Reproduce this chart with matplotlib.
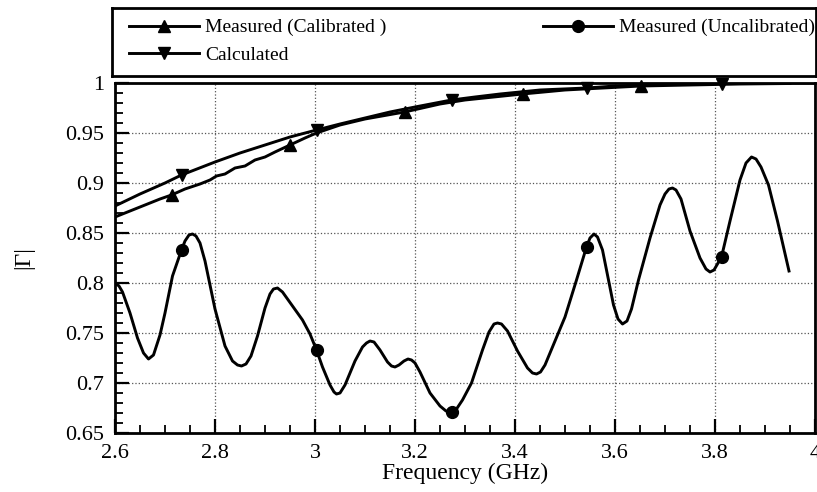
import matplotlib
matplotlib.use('Agg')
import matplotlib.pyplot as plt
from matplotlib.ticker import MultipleLocator
from matplotlib.lines import Line2D

plt.rcParams['font.family'] = ['Liberation Serif', 'DejaVu Serif']

# calculated |Gamma| (smooth curve) and its markers
calc_f = [2.60, 2.65, 2.70, 2.733, 2.80, 2.85, 2.90, 2.95, 3.003, 3.05, 3.10, 3.15, 3.20,
          3.273, 3.32, 3.37, 3.45, 3.543, 3.60, 3.65, 3.75, 3.813, 3.90, 4.00]
calc_g = [0.877, 0.889, 0.900, 0.908, 0.921, 0.930, 0.938, 0.946, 0.953, 0.959, 0.965,
          0.971, 0.976, 0.983, 0.986, 0.989, 0.993, 0.995, 0.997, 0.998, 0.999, 0.9995, 0.9998, 1.0]
calc_mf = [2.733, 3.003, 3.273, 3.543, 3.813]
calc_mg = [0.908, 0.953, 0.983, 0.995, 0.9995]

# measured, calibrated
cal_f = [2.60, 2.63, 2.66, 2.69, 2.713, 2.74, 2.77, 2.79, 2.803, 2.82, 2.84, 2.86, 2.88,
         2.90, 2.92, 2.95, 2.98, 3.003, 3.05, 3.10, 3.179, 3.25, 3.30, 3.415, 3.50,
         3.652, 3.75, 3.85, 3.95]
cal_g = [0.866, 0.872, 0.878, 0.884, 0.888, 0.894, 0.899, 0.903, 0.907, 0.909, 0.915,
         0.917, 0.923, 0.926, 0.931, 0.938, 0.945, 0.950, 0.958, 0.964, 0.971, 0.979,
         0.983, 0.989, 0.993, 0.997, 0.998, 0.999, 0.9995]
cal_mf = [2.713, 2.95, 3.179, 3.415, 3.652]
cal_mg = [0.888, 0.938, 0.971, 0.989, 0.997]

# measured, uncalibrated
unc_f = [2.600, 2.608, 2.615, 2.630, 2.645, 2.657, 2.667, 2.677, 2.690, 2.700, 2.715,
         2.733, 2.740, 2.748, 2.755, 2.762, 2.770, 2.780, 2.800, 2.820, 2.835, 2.845,
         2.853, 2.862, 2.872, 2.885, 2.900, 2.910, 2.917, 2.925, 2.935, 2.955, 2.975,
         2.990, 3.003, 3.015, 3.030, 3.038, 3.043, 3.050, 3.060, 3.080, 3.095, 3.103,
         3.110, 3.118, 3.130, 3.145, 3.153, 3.160, 3.168, 3.178, 3.186, 3.193, 3.200,
         3.210, 3.230, 3.250, 3.262, 3.273, 3.283, 3.295, 3.313, 3.335, 3.348, 3.358,
         3.365, 3.373, 3.385, 3.405, 3.425, 3.435, 3.443, 3.451, 3.460, 3.480, 3.500,
         3.523, 3.543, 3.550, 3.558, 3.565, 3.575, 3.587, 3.597, 3.606, 3.615, 3.624,
         3.633, 3.647, 3.670, 3.690, 3.700, 3.708, 3.715, 3.722, 3.732, 3.750, 3.770,
         3.782, 3.790, 3.798, 3.813, 3.830, 3.850, 3.862, 3.873, 3.882, 3.892, 3.907,
         3.925, 3.948]
unc_g = [0.800, 0.797, 0.791, 0.770, 0.745, 0.730, 0.724, 0.728, 0.748, 0.770, 0.807,
         0.833, 0.842, 0.848, 0.849, 0.847, 0.840, 0.822, 0.774, 0.737, 0.722, 0.718,
         0.717, 0.719, 0.727, 0.747, 0.775, 0.789, 0.794, 0.795, 0.791, 0.777, 0.763,
         0.749, 0.733, 0.716, 0.698, 0.691, 0.689, 0.690, 0.698, 0.722, 0.736, 0.740,
         0.742, 0.741, 0.733, 0.721, 0.717, 0.716, 0.718, 0.722, 0.724, 0.723, 0.720,
         0.711, 0.690, 0.677, 0.672, 0.671, 0.674, 0.683, 0.700, 0.733, 0.751, 0.759,
         0.760, 0.759, 0.752, 0.732, 0.715, 0.710, 0.709, 0.711, 0.718, 0.742, 0.766,
         0.803, 0.836, 0.845, 0.849, 0.846, 0.833, 0.803, 0.778, 0.764, 0.759, 0.762,
         0.774, 0.803, 0.845, 0.878, 0.889, 0.894, 0.895, 0.893, 0.884, 0.852, 0.825,
         0.814, 0.811, 0.813, 0.826, 0.862, 0.903, 0.920, 0.926, 0.924, 0.916, 0.898,
         0.862, 0.812]
unc_mf = [2.733, 3.003, 3.273, 3.543, 3.813]
unc_mg = [0.833, 0.733, 0.671, 0.836, 0.826]

W, H = 817, 492
fig = plt.figure(figsize=(W / 100, H / 100), dpi=100)
ax = fig.add_axes([115 / W, 1 - 433 / H, 700 / W, 350 / H])

lw = 2.1
ax.plot(calc_f, calc_g, color='black', lw=lw)
ax.plot(calc_mf, calc_mg, 'v', color='black', ms=8.5, clip_on=False)
ax.plot(cal_f, cal_g, color='black', lw=lw)
ax.plot(cal_mf, cal_mg, '^', color='black', ms=8.5, clip_on=False)
ax.plot(unc_f, unc_g, color='black', lw=lw)
ax.plot(unc_mf, unc_mg, 'o', color='black', ms=8.5)

ax.set_xlim(2.6, 4.0)
ax.set_ylim(0.65, 1.0)
ax.xaxis.set_minor_locator(MultipleLocator(0.05))
ax.yaxis.set_minor_locator(MultipleLocator(0.01))
ax.set_xticks([2.6, 2.8, 3.0, 3.2, 3.4, 3.6, 3.8, 4.0])
ax.set_xticklabels(['2.6', '2.8', '3', '3.2', '3.4', '3.6', '3.8', '4'])
ax.set_yticks([0.65, 0.7, 0.75, 0.8, 0.85, 0.9, 0.95, 1.0])
ax.set_yticklabels(['0.65', '0.7', '0.75', '0.8', '0.85', '0.9', '0.95', '1'])
ax.tick_params(which='major', direction='in', length=10, width=1.6, labelsize=16, pad=8)
ax.tick_params(which='minor', direction='in', length=6, width=1.3)
ax.grid(True, which='major', linestyle=':', color='#555555', lw=0.9)
for s in ax.spines.values():
    s.set_linewidth(2)

ax.set_xlabel('Frequency (GHz)', fontsize=17, labelpad=0)
ax.set_ylabel('|Γ|', fontsize=17, labelpad=22)

# legend box above the plot
lax = fig.add_axes([112 / W, 1 - 76 / H, 704 / W, 68 / H])
lax.set_xticks([])
lax.set_yticks([])
for s in lax.spines.values():
    s.set_linewidth(2)

h_cal = Line2D([], [], color='black', lw=lw, marker='^', ms=8.5)
h_calc = Line2D([], [], color='black', lw=lw, marker='v', ms=8.5)
h_unc = Line2D([], [], color='black', lw=lw, marker='o', ms=8.5)
leg1 = lax.legend([h_cal, h_calc], ['Measured (Calibrated )', 'Calculated'],
                  loc='upper left', bbox_to_anchor=(0.0, 1.1), frameon=False,
                  fontsize=14, handlelength=3.6, handletextpad=0.3, labelspacing=0.5)
lax.add_artist(leg1)
lax.legend([h_unc], ['Measured (Uncalibrated)'], loc='upper left',
           bbox_to_anchor=(0.587, 1.1), frameon=False,
           fontsize=14, handlelength=3.6, handletextpad=0.3)

fig.savefig('out.png', dpi=100)
